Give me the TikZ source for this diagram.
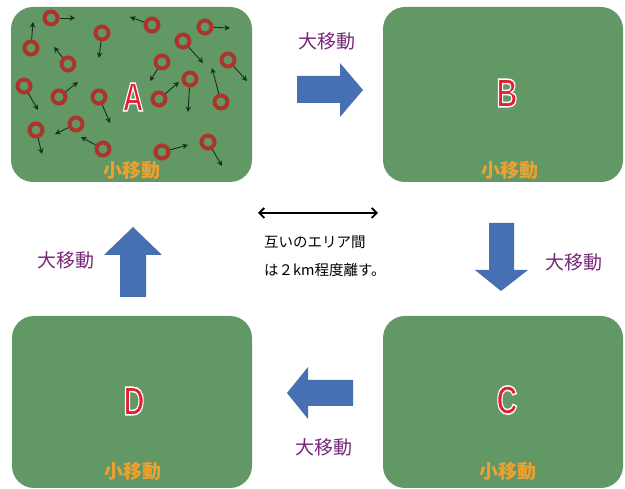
\documentclass[tikz,border=0pt]{standalone}
\usepackage{fontspec}
\newfontfamily\cjk{Noto Sans CJK JP}
\newfontfamily\lettfont{Liberation Sans}
\usetikzlibrary{arrows.meta}
\definecolor{fieldgreen}{RGB}{98,152,102}
\definecolor{ringred}{RGB}{172,52,42}
\definecolor{bigblue}{RGB}{70,112,178}
\definecolor{bigpurple}{RGB}{120,40,122}
\definecolor{smallorange}{RGB}{236,160,48}
\definecolor{lettred}{RGB}{226,30,48}
\definecolor{movegreen}{RGB}{22,48,26}
% letter filled red and stroked white (PDF text rendering mode 2)
\newcommand\outlinedletter[1]{\scalebox{0.72}[1]{\textcolor{lettred}{%
  \special{pdf:literal direct 2 Tr 1.5 w 1 1 1 RG}#1\special{pdf:literal direct 0 Tr}}}}
\tikzset{
  field/.style={rectangle, rounded corners=22pt, fill=fieldgreen, draw=none, inner sep=0pt},
  particle/.style={circle, draw=ringred, line width=4pt, fill=fieldgreen, minimum size=13pt, inner sep=0pt},
  moveto/.style={draw=movegreen, line width=0.9pt, -{Stealth[length=5.5pt,width=5.5pt]}},
  bigarrow/.style={fill=bigblue, draw=none},
  biglabel/.style={text=bigpurple, font=\cjk\fontsize{19}{19}\selectfont, inner sep=0pt},
  smalllabel/.style={text=smallorange, font=\cjk\bfseries\fontsize{19}{19}\selectfont, inner sep=0pt},
  notetext/.style={text=black, font=\cjk\fontsize{14.5}{14.5}\selectfont, inner sep=0pt, anchor=west},
  arealetter/.style={font=\lettfont\bfseries\fontsize{40}{40}\selectfont, inner sep=0pt},
}
\begin{document}
\begin{tikzpicture}[x=1pt,y=-1pt]
\useasboundingbox (0,0) rectangle (625,489);
\fill[white] (0,0) rectangle (625,489);

% fields
\node[field, minimum width=241pt, minimum height=175pt] (A) at (131.5,94.5) {};
\node[field, minimum width=240pt, minimum height=175pt] (B) at (503,94.5) {};
\node[field, minimum width=240pt, minimum height=172pt] (C) at (503,402) {};
\node[field, minimum width=240pt, minimum height=172pt] (D) at (132,402) {};

% particles in A
\foreach \i/\px/\py/\ex/\ey in {
  1/51/18/75/18, 2/31/48/33/22, 3/102/33/99/58, 4/68/64/54/47,
  5/152/25/130/17, 6/205/27/230/28, 7/183/41/203/63, 8/162/62/150/81,
  9/228/60/247/81, 10/24/86/38/110, 11/59/97/78/82, 12/99/97/110/123,
  13/159/99/179/82, 14/190/79/188/112, 15/221/102/212/68, 16/36/130/42/154,
  17/76/124/55/134, 18/103/149/81/137, 19/162/152/188/145, 20/208/142/222/166} {
  \node[particle] (p\i) at (\px,\py) {};
  \coordinate (e\i) at (\ex,\ey);
  \draw[moveto] (p\i) -- (e\i);
}

% area letters
\node[arealetter] (A-letter) at (133,97) {\outlinedletter{A}};
\node[arealetter] (B-letter) at (507,93) {\outlinedletter{B}};
\node[arealetter] (C-letter) at (507,400) {\outlinedletter{C}};
\node[arealetter] (D-letter) at (134,401) {\outlinedletter{D}};

% small-move labels
\node[smalllabel] (sA) at (132,170) {小移動};
\node[smalllabel] (sB) at (510,170) {小移動};
\node[smalllabel] (sC) at (508,471) {小移動};
\node[smalllabel] (sD) at (133,471) {小移動};

% big arrows
\draw[bigarrow] (297,76) -- (340,76) -- (340,63) -- (363,90) -- (340,117) -- (340,103) -- (297,103) -- cycle;
\draw[bigarrow] (489,223) -- (514,223) -- (514,270) -- (528,270) -- (501,291) -- (475,270) -- (489,270) -- cycle;
\draw[bigarrow] (353,380) -- (308,380) -- (308,367) -- (287,393) -- (308,419) -- (308,406) -- (353,406) -- cycle;
\draw[bigarrow] (120,297) -- (120,255) -- (104,255) -- (133,227) -- (162,255) -- (146,255) -- (146,297) -- cycle;

% big-move labels
\node[biglabel] (lAB) at (327,41) {大移動};
\node[biglabel] (lBC) at (574,262) {大移動};
\node[biglabel] (lCD) at (324,447) {大移動};
\node[biglabel] (lDA) at (66,260) {大移動};

% distance note
\coordinate (dl) at (258,213);
\coordinate (dr) at (378,213);
\draw[line width=1.8pt, {Straight Barb[length=5pt,width=10pt]}-{Straight Barb[length=5pt,width=10pt]}] (dl) -- (dr);
\node[notetext] (n1) at (264,242) {互いのエリア間};
\node[notetext] (n2) at (264,270) {は２km程度離す。};
\end{tikzpicture}
\end{document}
